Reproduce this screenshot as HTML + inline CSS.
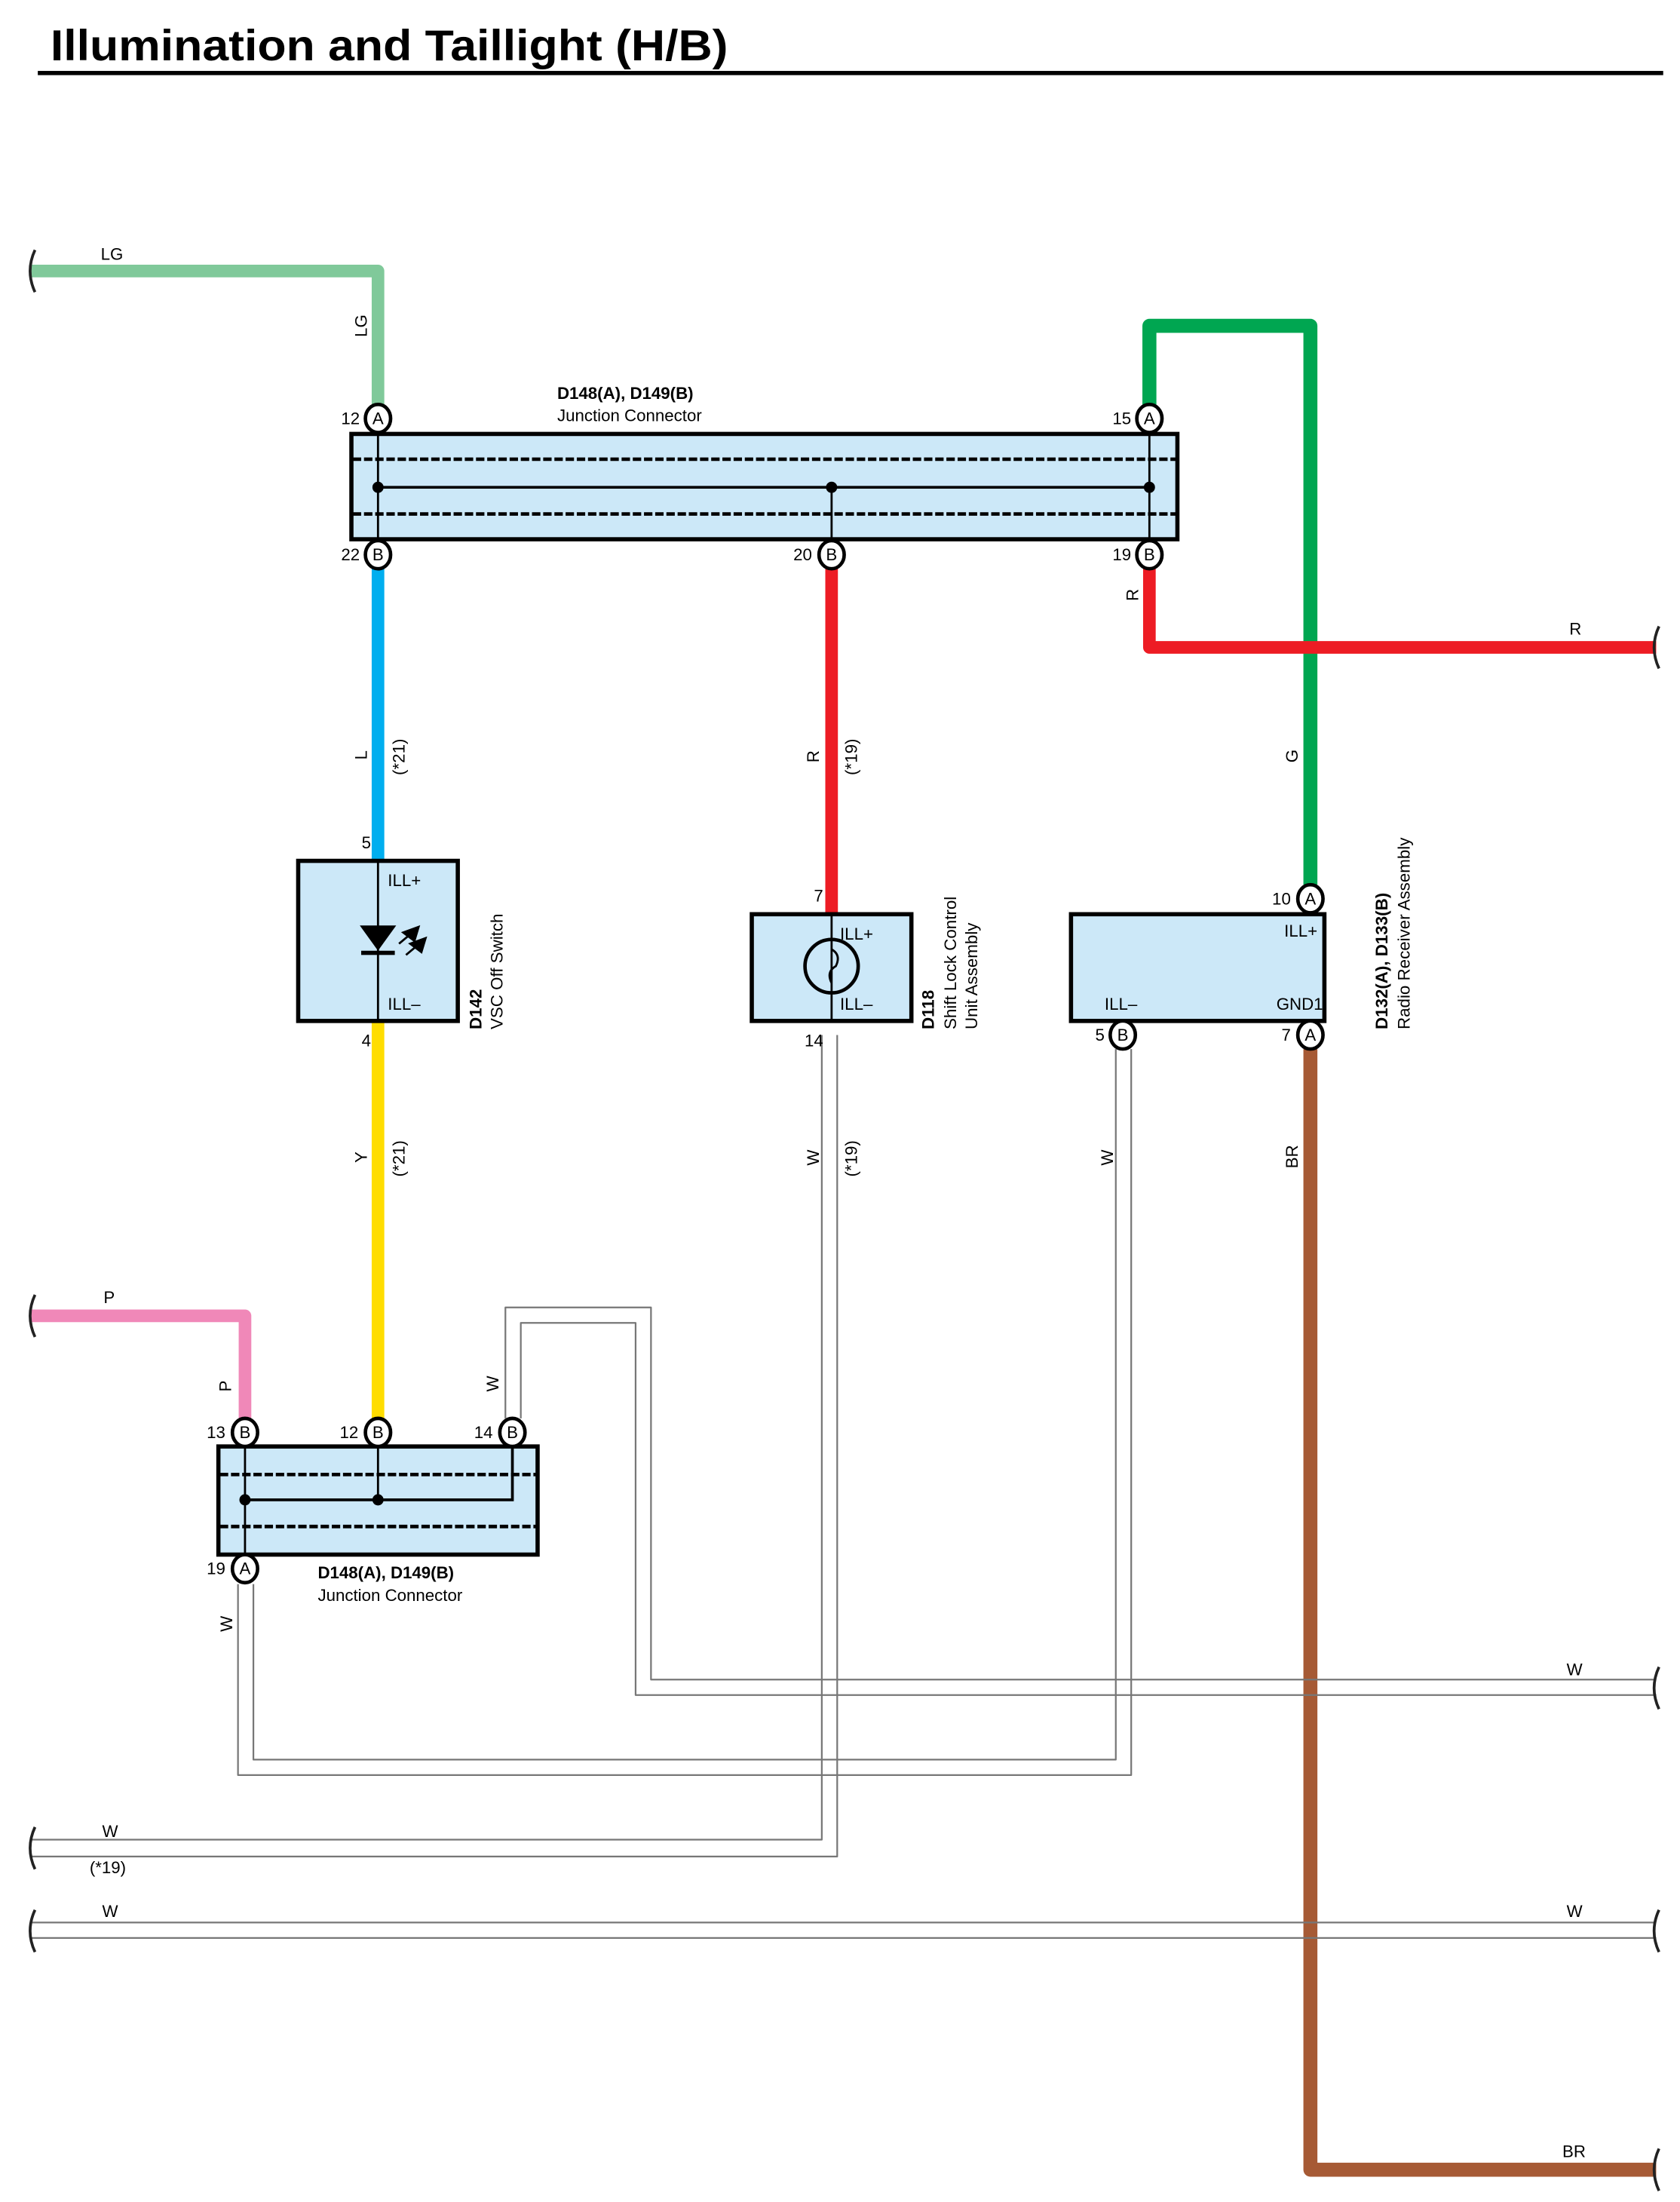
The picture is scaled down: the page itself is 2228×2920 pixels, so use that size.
<!DOCTYPE html>
<html><head><meta charset="utf-8"><style>html,body{margin:0;padding:0;background:#fff}svg{display:block}</style></head>
<body>
<svg width="2228" height="2920" viewBox="0 0 1200 1568" preserveAspectRatio="none" xmlns="http://www.w3.org/2000/svg" font-family="Liberation Sans, sans-serif">
<rect width="1200" height="1568" fill="#fff"/>
<text x="36" y="43" font-size="31" font-weight="bold" textLength="484" lengthAdjust="spacingAndGlyphs">Illumination and Taillight (H/B)</text>
<rect x="27" y="50.5" width="1161" height="3" fill="#000"/>

<g fill="none" stroke-linejoin="round">
<polyline points="22,193 270,193 270,290" stroke="#80c99a" stroke-width="9"/>
<polyline points="821,290 821,232 936,232 936,630" stroke="#00a651" stroke-width="10"/>
<polyline points="821,405 821,461 1183,461" stroke="#ed1c24" stroke-width="9"/>
<line x1="594" y1="405" x2="594" y2="651" stroke="#ed1c24" stroke-width="9"/>
<line x1="270" y1="405" x2="270" y2="613" stroke="#00aeef" stroke-width="9"/>
<line x1="270" y1="727" x2="270" y2="1010" stroke="#ffdd00" stroke-width="9"/>
<polyline points="936,747 936,1545 1183,1545" stroke="#a65a35" stroke-width="10"/>
<polyline points="22,937 175,937 175,1010" stroke="#f088b8" stroke-width="9"/>
<g stroke="#777" stroke-width="1.2">
<polyline points="587,737 587,1310 22,1310"/><polyline points="598,737 598,1322 22,1322"/>
<polyline points="797,747 797,1253 181,1253 181,1128"/><polyline points="808,747 808,1264 170,1264 170,1128"/>
<polyline points="361,1010 361,931 465,931 465,1196 1183,1196"/><polyline points="372,1010 372,942 454,942 454,1207 1183,1207"/>
<line x1="22" y1="1369" x2="1183" y2="1369"/><line x1="22" y1="1380" x2="1183" y2="1380"/>
</g>
<g stroke="#222" stroke-width="2">
<path d="M25,178 Q18,193 25,208"/><path d="M25,922 Q18,937 25,952"/><path d="M25,1301 Q18,1316 25,1331"/><path d="M25,1360 Q18,1375 25,1390"/>
<path d="M1185,446 Q1178,461 1185,476"/><path d="M1185,1187 Q1178,1202 1185,1217"/><path d="M1185,1360 Q1178,1375 1185,1390"/><path d="M1185,1530 Q1178,1545 1185,1560"/>
</g>
</g>

<rect x="251" y="309" width="590" height="75" fill="#cce8f8" stroke="#000" stroke-width="3"/>
<g stroke="#000" fill="none">
<line x1="252" y1="327" x2="840" y2="327" stroke-width="2.5" stroke-dasharray="6,2"/>
<line x1="252" y1="366" x2="840" y2="366" stroke-width="2.5" stroke-dasharray="6,2"/>
<line x1="270" y1="347" x2="821" y2="347" stroke-width="2"/>
<line x1="270" y1="309" x2="270" y2="384" stroke-width="1.5"/>
<line x1="821" y1="309" x2="821" y2="384" stroke-width="1.5"/>
<line x1="594" y1="347" x2="594" y2="384" stroke-width="1.5"/>
</g>
<circle cx="270" cy="347" r="4"/><circle cx="594" cy="347" r="4"/><circle cx="821" cy="347" r="4"/>

<rect x="156" y="1030" width="228" height="77" fill="#cce8f8" stroke="#000" stroke-width="3"/>
<g stroke="#000" fill="none">
<line x1="157" y1="1050" x2="383" y2="1050" stroke-width="2.5" stroke-dasharray="6,2"/>
<line x1="157" y1="1087" x2="383" y2="1087" stroke-width="2.5" stroke-dasharray="6,2"/>
<polyline points="175,1068 366,1068 366,1030" stroke-width="2"/>
<line x1="175" y1="1030" x2="175" y2="1107" stroke-width="1.5"/>
<line x1="270" y1="1030" x2="270" y2="1068" stroke-width="1.5"/>
</g>
<circle cx="175" cy="1068" r="4"/><circle cx="270" cy="1068" r="4"/>

<rect x="213" y="613" width="114" height="114" fill="#cce8f8" stroke="#000" stroke-width="3"/>
<line x1="270" y1="613" x2="270" y2="727" stroke="#000" stroke-width="1.5"/>
<path d="M257,659 L283,659 L270,677 Z" fill="#000"/>
<rect x="258" y="677" width="24" height="3" fill="#000"/>
<path d="M285,672 L297,662 M288,664 L299,660 L296,670 Z M290,680 L302,670 M293,672 L304,668 L301,678 Z" stroke="#000" stroke-width="1.5" fill="#000"/>
<rect x="537" y="651" width="114" height="76" fill="#cce8f8" stroke="#000" stroke-width="3"/>
<line x1="594" y1="651" x2="594" y2="727" stroke="#000" stroke-width="1.5"/>
<ellipse cx="594" cy="688" rx="19" ry="19" fill="none" stroke="#000" stroke-width="2.5"/>
<path d="M594,676 Q601,680 597,688 Q590,692 594,700" fill="none" stroke="#000" stroke-width="1.5"/>
<rect x="765" y="651" width="181" height="76" fill="#cce8f8" stroke="#000" stroke-width="3"/>

<g font-size="12" text-anchor="middle">
<g fill="#fff" stroke="#000" stroke-width="2.5">
<ellipse cx="270" cy="298" rx="9" ry="10"/><ellipse cx="821" cy="298" rx="9" ry="10"/>
<ellipse cx="270" cy="395" rx="9" ry="10"/><ellipse cx="594" cy="395" rx="9" ry="10"/><ellipse cx="821" cy="395" rx="9" ry="10"/>
<ellipse cx="936" cy="640" rx="9" ry="10"/><ellipse cx="802" cy="737" rx="9" ry="10"/><ellipse cx="936" cy="737" rx="9" ry="10"/>
<ellipse cx="175" cy="1020" rx="9" ry="10"/><ellipse cx="270" cy="1020" rx="9" ry="10"/><ellipse cx="366" cy="1020" rx="9" ry="10"/><ellipse cx="175" cy="1117" rx="9" ry="10"/>
</g>
<text x="270" y="302">A</text><text x="821" y="302">A</text>
<text x="270" y="399">B</text><text x="594" y="399">B</text><text x="821" y="399">B</text>
<text x="936" y="644">A</text><text x="802" y="741">B</text><text x="936" y="741">A</text>
<text x="175" y="1024">B</text><text x="270" y="1024">B</text><text x="366" y="1024">B</text><text x="175" y="1121">A</text>
</g>

<g font-size="12" text-anchor="end">
<text x="257" y="302">12</text><text x="808" y="302">15</text>
<text x="257" y="399">22</text><text x="580" y="399">20</text><text x="808" y="399">19</text>
<text x="922" y="644">10</text><text x="789" y="741">5</text><text x="922" y="741">7</text>
<text x="265" y="604">5</text><text x="265" y="745">4</text><text x="588" y="642">7</text><text x="588" y="745">14</text>
<text x="161" y="1024">13</text><text x="256" y="1024">12</text><text x="352" y="1024">14</text><text x="161" y="1121">19</text>
<text x="941" y="667">ILL+</text><text x="945" y="719">GND1</text>
</g>

<g font-size="12">
<text x="277" y="631">ILL+</text><text x="277" y="719">ILL–</text>
<text x="600" y="669">ILL+</text><text x="600" y="719">ILL–</text>
<text x="789" y="719">ILL–</text>
<text x="398" y="284" font-weight="bold">D148(A), D149(B)</text>
<text x="398" y="300">Junction Connector</text>
<text x="227" y="1124" font-weight="bold">D148(A), D149(B)</text>
<text x="227" y="1140">Junction Connector</text>
<text x="72" y="185">LG</text><text x="74" y="928">P</text>
<text x="73" y="1308">W</text><text x="64" y="1334">(*19)</text>
<text x="73" y="1365">W</text><text x="1119" y="1365">W</text>
<text x="1121" y="452">R</text><text x="1119" y="1193">W</text><text x="1116" y="1536">BR</text>
</g>

<g font-size="12">
<text transform="translate(262,240) rotate(-90)">LG</text>
<text transform="translate(262,541) rotate(-90)">L</text>
<text transform="translate(289,552) rotate(-90)">(*21)</text>
<text transform="translate(262,828) rotate(-90)">Y</text>
<text transform="translate(289,838) rotate(-90)">(*21)</text>
<text transform="translate(585,543) rotate(-90)">R</text>
<text transform="translate(612,552) rotate(-90)">(*19)</text>
<text transform="translate(585,830) rotate(-90)">W</text>
<text transform="translate(612,838) rotate(-90)">(*19)</text>
<text transform="translate(795,830) rotate(-90)">W</text>
<text transform="translate(927,543) rotate(-90)">G</text>
<text transform="translate(927,832) rotate(-90)">BR</text>
<text transform="translate(813,428) rotate(-90)">R</text>
<text transform="translate(165,991) rotate(-90)">P</text>
<text transform="translate(356,991) rotate(-90)">W</text>
<text transform="translate(166,1162) rotate(-90)">W</text>
<text transform="translate(344,733) rotate(-90)" font-weight="bold">D142</text>
<text transform="translate(359,733) rotate(-90)">VSC Off Switch</text>
<text transform="translate(667,733) rotate(-90)" font-weight="bold">D118</text>
<text transform="translate(683,733) rotate(-90)">Shift Lock Control</text>
<text transform="translate(698,733) rotate(-90)">Unit Assembly</text>
<text transform="translate(991,733) rotate(-90)" font-weight="bold">D132(A), D133(B)</text>
<text transform="translate(1007,733) rotate(-90)">Radio Receiver Assembly</text>
</g>
</svg>
</body></html>
